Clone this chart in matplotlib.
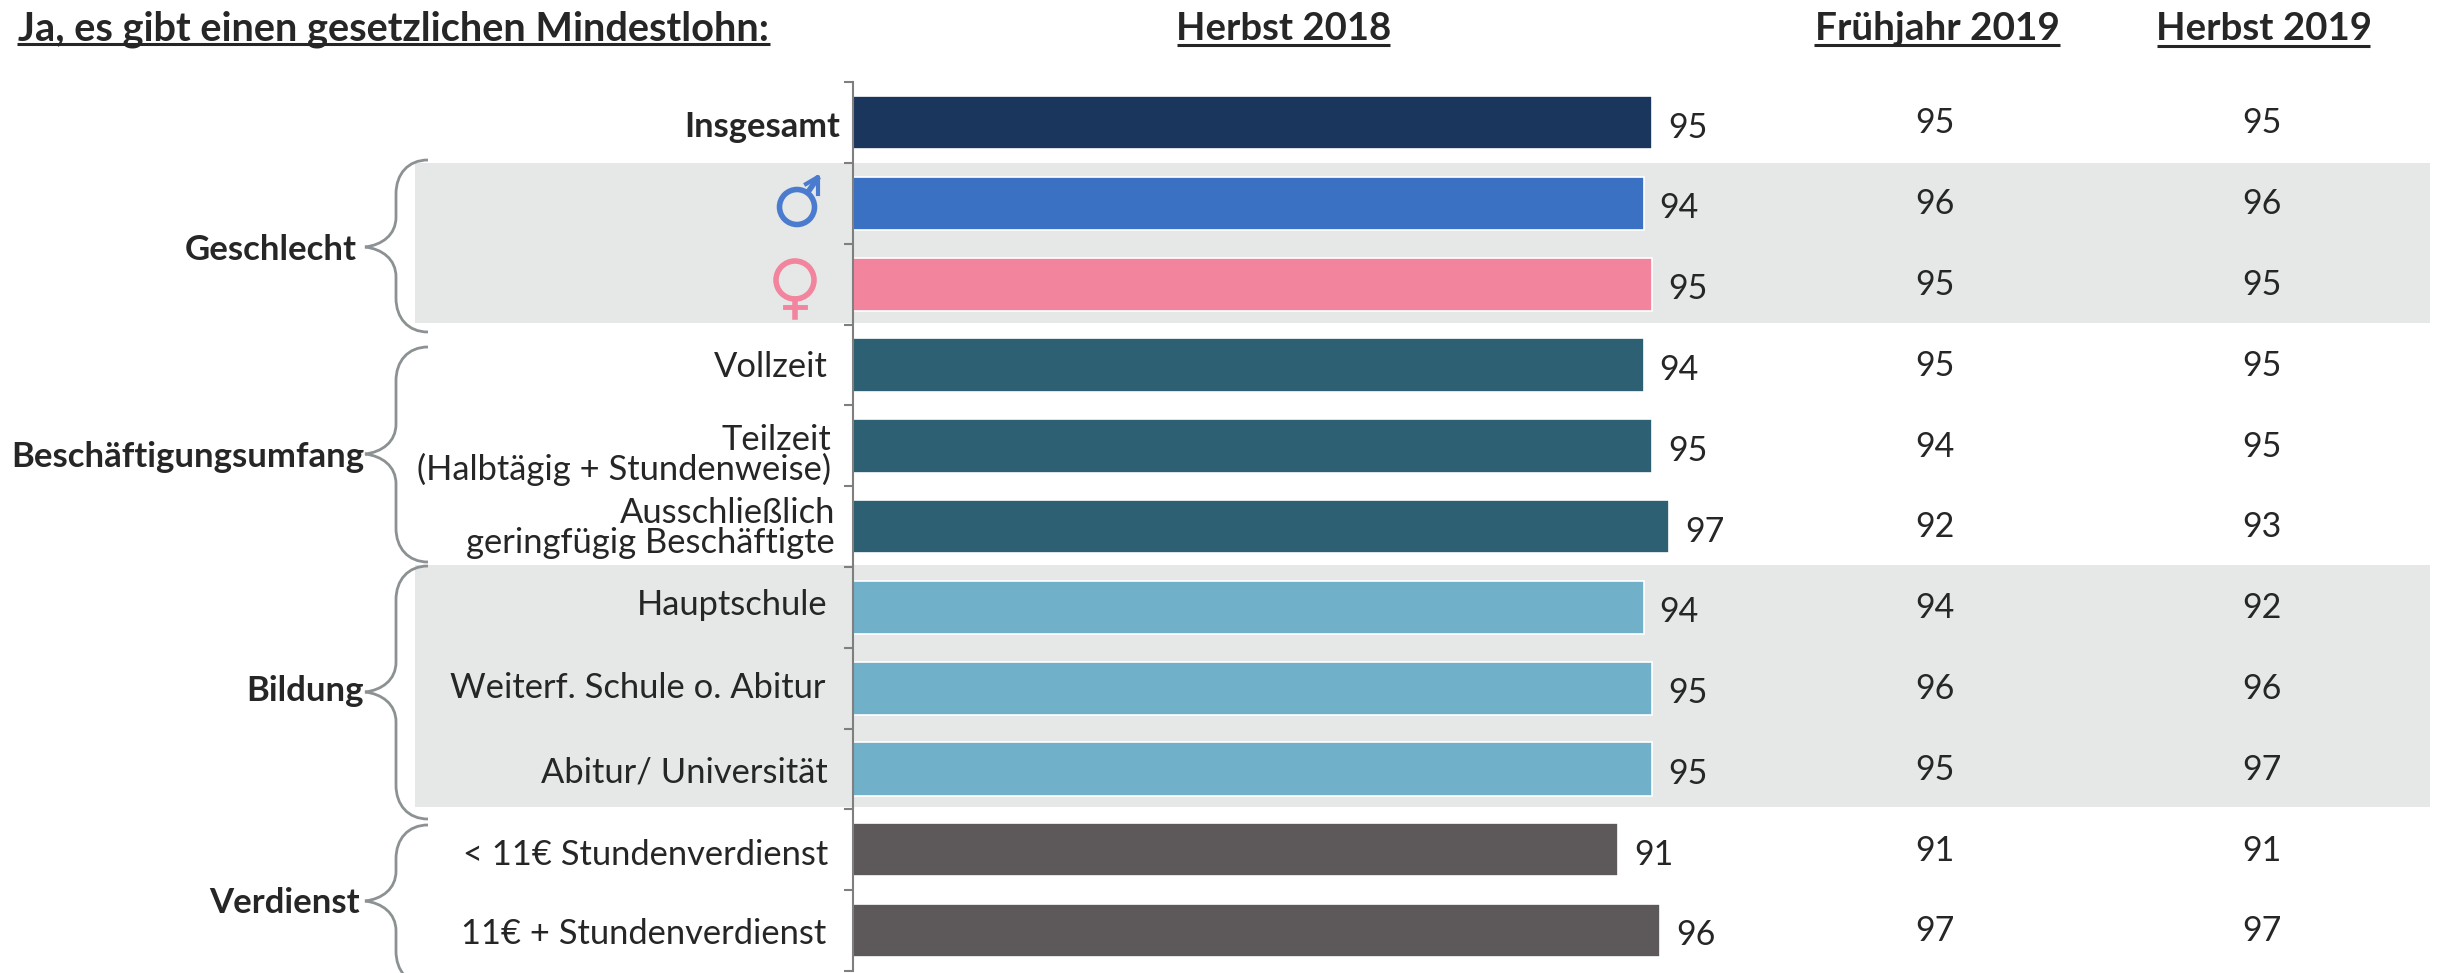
from matplotlib import pyplot as plt
from matplotlib.patches import Circle, PathPatch, Rectangle
from matplotlib.path import Path
from matplotlib.transforms import blended_transform_factory

plt.rcParams["font.family"] = ["Lato", "DejaVu Sans"]

W, H = 2442, 973
TEXT = "#262626"
BRACE = "#8c9194"

categories = [
    "Insgesamt", "männlich", "weiblich", "Vollzeit",
    "Teilzeit\n(Halbtägig + Stundenweise)",
    "Ausschließlich\ngeringfügig Beschäftigte",
    "Hauptschule", "Weiterf. Schule o. Abitur", "Abitur/ Universität",
    "< 11€ Stundenverdienst", "11€ + Stundenverdienst",
]
herbst_2018 = [95, 94, 95, 94, 95, 97, 94, 95, 95, 91, 96]
fruehjahr_2019 = [95, 96, 95, 95, 94, 92, 94, 96, 95, 91, 97]
herbst_2019 = [95, 96, 95, 95, 95, 93, 92, 96, 97, 91, 97]
bar_colors = [
    "#1b365d", "#3b71c2", "#f2849e", "#2c6072", "#2c6072", "#2c6072",
    "#70b0c9", "#70b0c9", "#70b0c9", "#5d595a", "#5d595a",
]

# right edge and centre of each row label, in pixels
label_right = [840, None, None, 828, 831, 835, 828, 825, 828, 828, 826]
label_y = [127, None, None, 367, 455, 528, 605, 688, 773, 855, 934]

groups = ["Geschlecht", "Beschäftigungsumfang", "Bildung", "Verdienst"]
group_right = [357, 364, 364, 360]
group_y = [250, 457, 691, 903]
brace_top = [160, 347, 566, 825]
brace_mid = [247, 454, 692, 901]
brace_bottom = [332, 562, 819, 985]

fig = plt.figure(figsize=(W / 100, H / 100), dpi=100, facecolor="white")

# pixel canvas for everything around the bars
bg = fig.add_axes([0, 0, 1, 1], zorder=0)
bg.set_xlim(0, W)
bg.set_ylim(H, 0)
bg.axis("off")

for y0, y1 in [(163, 323), (565, 807)]:
    bg.add_patch(Rectangle((415, y0), 2430 - 415, y1 - y0, color="#e6e8e7", lw=0))


def brace(top, mid, bottom):
    tip, spine, end = 365, 396, 428
    verts = [
        (end, top), (408, top), (spine, top + 14), (spine, top + 34),
        (spine, mid - 30),
        (spine, mid - 12), (382, mid - 2), (tip, mid),
        (382, mid + 2), (spine, mid + 12), (spine, mid + 30),
        (spine, bottom - 34),
        (spine, bottom - 14), (408, bottom), (end, bottom),
    ]
    codes = [
        Path.MOVETO, Path.CURVE4, Path.CURVE4, Path.CURVE4,
        Path.LINETO,
        Path.CURVE4, Path.CURVE4, Path.CURVE4,
        Path.CURVE4, Path.CURVE4, Path.CURVE4,
        Path.LINETO,
        Path.CURVE4, Path.CURVE4, Path.CURVE4,
    ]
    bg.add_patch(PathPatch(Path(verts, codes), fc="none", ec=BRACE, lw=2))


for top, mid, bottom in zip(brace_top, brace_mid, brace_bottom):
    brace(top, mid, bottom)

for name, x, y in zip(groups, group_right, group_y):
    bg.text(x, y, name, ha="right", va="center", fontsize=25, weight="bold", color=TEXT)

for i, cat in enumerate(categories):
    if label_right[i] is None:
        continue
    bg.text(
        label_right[i], label_y[i], cat, ha="right", va="center", ma="right",
        fontsize=24.8, color=TEXT, linespacing=0.9,
        weight="bold" if i == 0 else "normal",
    )

# gender symbols
blue, pink = bar_colors[1], bar_colors[2]
bg.add_patch(Circle((797, 207), 17.5, fc="none", ec="#4a7bcf", lw=4))
bg.plot([808, 817], [192, 179], color="#4a7bcf", lw=4)
bg.plot([806, 818, 818], [184, 177, 194], color="#4a7bcf", lw=3)
bg.add_patch(Circle((795, 280), 19, fc="none", ec=pink, lw=4))
bg.plot([795, 795], [299, 317], color=pink, lw=4)
bg.plot([785, 805], [307, 307], color=pink, lw=3.5)

# bars
ax = fig.add_axes(
    [852.5 / W, 1 - 971 / H, (2430 - 852.5) / W, (971 - 82.3) / H],
    zorder=1,
)
ax.patch.set_alpha(0)
rows = list(range(len(categories)))
ax.barh(rows, herbst_2018, height=0.66, color=bar_colors, edgecolor="white", linewidth=1.2)
ax.set_xlim(0, (2430 - 852.5) / 8.416)
ax.set_ylim(len(rows) - 0.5, -0.5)
for side in ["top", "right", "bottom"]:
    ax.spines[side].set_visible(False)
ax.spines["left"].set_color("#7f7f7f")
ax.spines["left"].set_linewidth(1.5)
ax.set_xticks([])
ax.set_yticks([r - 0.5 for r in rows] + [len(rows) - 0.5])
ax.set_yticklabels([])
ax.tick_params(axis="y", length=6.5, width=1.5, color="#7f7f7f")

for r, v in zip(rows, herbst_2018):
    ax.annotate(
        str(v), (v, r), xytext=(11.5, -3.5), textcoords="offset points",
        ha="left", va="center", fontsize=24.5, color=TEXT,
    )

# value columns: x in pixels, y from the bar rows
trans = blended_transform_factory(bg.transData, ax.transData)
for x, values in [(1935, fruehjahr_2019), (2262, herbst_2019)]:
    for r, v in zip(rows, values):
        ax.annotate(
            str(v), (x, r), xycoords=trans, xytext=(0, -0.5), textcoords="offset points",
            ha="center", va="center", fontsize=24.5, color=TEXT,
        )

# headers with underlines
headers = [
    ("Ja, es gibt einen gesetzlichen Mindestlohn:", 17, 770, 29, 44, 28.6),
    ("Herbst 2018", 1177, 1390, 29, 45, 27.5),
    ("Frühjahr 2019", 1814, 2060, 29, 45, 27.9),
    ("Herbst 2019", 2157, 2370, 29, 46, 27.6),
]
for text, x0, x1, y, uy, size in headers:
    bg.text((x0 + x1) / 2, y, text, ha="center", va="center", fontsize=size, weight="bold", color=TEXT)
    bg.plot([x0, x1], [uy, uy], color=TEXT, lw=2.2, solid_capstyle="butt")

fig.savefig("out.png", dpi=100)
